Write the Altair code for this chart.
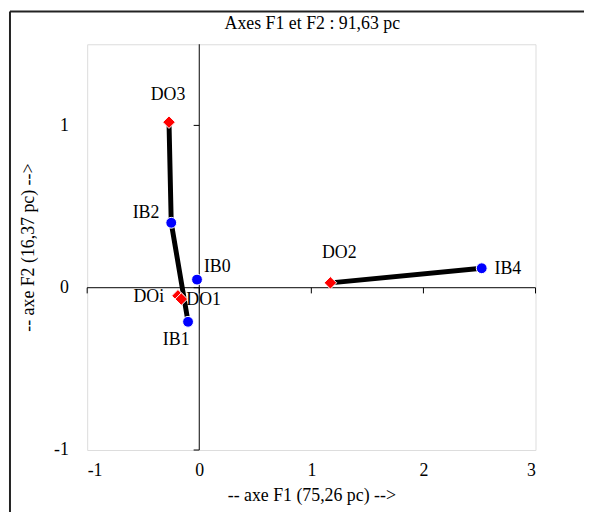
import altair as alt
import pandas as pd

# ---- data ----
names = ["DO3", "IB2", "IB0", "DOi", "DO1", "IB1", "DO2", "IB4"]
f1 = [-0.27, -0.25, -0.02, -0.19, -0.16, -0.10, 1.17, 2.52]
f2 = [1.02, 0.40, 0.05, -0.05, -0.07, -0.21, 0.03, 0.12]
kind = ["DO", "IB", "IB", "DO", "DO", "IB", "DO", "IB"]

# connecting segments (point names, in path order)
paths = {"a": ["DO3", "IB2", "IB1"], "b": ["DO2", "IB4"]}

x_ticks = [-1, 0, 1, 2, 3]
y_ticks = [-1, 0, 1]

title_text = "Axes F1 et F2 : 91,63 pc"
x_title = "-- axe F1 (75,26 pc) -->"
y_title = "-- axe F2 (16,37 pc) -->"

# label placement (pixels): name -> (dx, dy, align)
label_pos = {
    "DO3": (-1, -27, "center"),
    "IB2": (-12, -10, "right"),
    "IB0": (7, -13, "left"),
    "DOi": (-14, 1, "right"),
    "DO1": (5, 1, "left"),
    "IB1": (-12, 18, "center"),
    "DO2": (9, -30, "center"),
    "IB4": (13, 1, "left"),
}

FONT = "Liberation Serif"
FS = 18
W, H = 453, 410

df = pd.DataFrame({"name": names, "f1": f1, "f2": f2, "kind": kind})
coord = {n: (a, b) for n, a, b in zip(names, f1, f2)}
lines = pd.DataFrame(
    [{"path": p, "order": i, "f1": coord[n][0], "f2": coord[n][1]}
     for p, seq in paths.items() for i, n in enumerate(seq)]
)

xs = alt.Scale(domain=[-1, 3], nice=False, zero=False)
ys = alt.Scale(domain=[-1, 1.5], nice=False, zero=False)

AX = alt.Axis(values=x_ticks, domain=False, ticks=False, grid=False,
              labelPadding=12, labelExpr="'' + datum.value",
              title=x_title, titlePadding=7)
AY = alt.Axis(values=y_ticks, domain=False, ticks=False, grid=False,
              labelPadding=19, labelExpr="'' + datum.value",
              title=y_title, titlePadding=16)


def X(field):
    return alt.X(field, scale=xs, axis=AX)


def Y(field):
    return alt.Y(field, scale=ys, axis=AY)


zero_df = pd.DataFrame({"v": [0]})
zero_x = alt.Chart(zero_df).mark_rule(color="black", strokeWidth=1).encode(x=X("v:Q"))
zero_y = alt.Chart(zero_df).mark_rule(color="black", strokeWidth=1).encode(y=Y("v:Q"))

tx = pd.DataFrame({"v": x_ticks, "a": [0] * len(x_ticks), "b": [-0.035] * len(x_ticks)})
ty = pd.DataFrame({"v": y_ticks, "a": [0] * len(y_ticks), "b": [-0.05] * len(y_ticks)})
ticks_x = alt.Chart(tx).mark_rule(color="black").encode(x=X("v:Q"), y=Y("a:Q"), y2="b:Q")
ticks_y = alt.Chart(ty).mark_rule(color="black").encode(y=Y("v:Q"), x=X("a:Q"), x2="b:Q")

line_layer = alt.Chart(lines).mark_line(color="black", strokeWidth=5).encode(
    x=X("f1:Q"), y=Y("f2:Q"), detail="path:N", order="order:Q")

color_scale = alt.Scale(domain=["DO", "IB"], range=["#ff0000", "#0000ff"])
shape_scale = alt.Scale(domain=["DO", "IB"], range=["diamond", "circle"])
size_scale = alt.Scale(domain=["DO", "IB"], range=[160, 120])

points = alt.Chart(df).mark_point(filled=True, opacity=1, stroke="white", strokeWidth=1).encode(
    x=X("f1:Q"), y=Y("f2:Q"),
    color=alt.Color("kind:N", scale=color_scale, legend=None),
    shape=alt.Shape("kind:N", scale=shape_scale, legend=None),
    size=alt.Size("kind:N", scale=size_scale, legend=None),
)

label_layers = []
for n in names:
    dx, dy, al = label_pos[n]
    label_layers.append(
        alt.Chart(df[df.name == n]).mark_text(
            font=FONT, fontSize=FS, color="black", dx=dx, dy=dy, align=al,
            baseline="middle").encode(x=X("f1:Q"), y=Y("f2:Q"), text="name:N"))

# chart title as a text mark (above the plot frame)
title_layer = alt.Chart(zero_df).mark_text(
    text=title_text, font=FONT, fontSize=FS, color="black", align="center",
    baseline="middle").encode(x=alt.value(W / 2 + 1), y=alt.value(-20))

# outer frame (decorative, top and left edges)
frame_top = alt.Chart(zero_df).mark_rule(color="#222", strokeWidth=2).encode(
    x=alt.value(-78), x2=alt.value(W + 60), y=alt.value(-33))
frame_left = alt.Chart(zero_df).mark_rule(color="#222", strokeWidth=2).encode(
    x=alt.value(-78), y=alt.value(-33), y2=alt.value(H + 80))

chart = alt.layer(
    zero_x, zero_y, ticks_x, ticks_y, line_layer, points, *label_layers,
    title_layer, frame_top, frame_left
).properties(
    width=W, height=H,
    autosize=alt.AutoSizeParams(type="none"),
    padding={"left": 80, "top": 34, "right": 49, "bottom": 60},
).configure_view(stroke="#a0a0a0", strokeWidth=1.5).configure(
    background="white"
).configure_axis(
    labelFont=FONT, labelFontSize=FS, labelColor="black",
    titleFont=FONT, titleFontSize=FS, titleFontWeight="normal", titleColor="black",
)

chart.save("out.html", embed_options={"renderer": "svg", "actions": False})
